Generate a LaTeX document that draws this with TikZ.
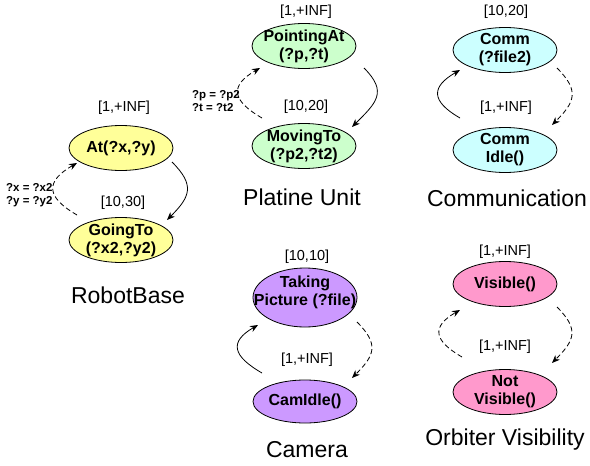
\documentclass[tikz,border=0pt]{standalone}
\usepackage{fontspec}
\setmainfont{Liberation Sans}
\usetikzlibrary{arrows.meta,shapes.geometric}
\definecolor{cyel}{HTML}{FFFF99}
\definecolor{cgrn}{HTML}{CCFFCC}
\definecolor{ccyn}{HTML}{CCFFFF}
\definecolor{cpur}{HTML}{CC99FF}
\definecolor{cpnk}{HTML}{FF99CC}
\begin{document}
\begin{tikzpicture}[x=1pt,y=1pt,
  state/.style={ellipse, draw, line width=0.8pt, minimum width=104pt, minimum height=45pt,
    inner sep=-16pt, align=center, font=\fontsize{16}{18}\selectfont\bfseries},
  dur/.style={font=\fontsize{14.5}{16}\selectfont},
  title/.style={font=\fontsize{23}{26}\selectfont},
  eq/.style={font=\fontsize{11.5}{13}\selectfont\bfseries, align=left, anchor=west, inner sep=0pt},
  sol/.style={line width=0.8pt, -{Stealth[length=8pt,width=6.5pt]}},
  dsh/.style={sol, dash pattern=on 5pt off 3pt},
  rarc/.style={out=-45,in=45,looseness=1.45},
  larc/.style={out=150,in=-150,looseness=1.8}]
\useasboundingbox (0,0) rectangle (590,-466);
% RobotBase
\node[state, fill=cyel] (at) at (121,-148) {At(?x,?y)};
\node[state, fill=cyel] (go) at (121,-240) {GoingTo\\(?x2,?y2)};
\node[dur] (d1) at (124,-108) {[1,+INF]};
\node[dur] (d2) at (123,-203) {[10,30]};
\node[title] (t1) at (128,-295) {RobotBase};
\node[eq] (e1) at (6,-195) {?x = ?x2\\?y = ?y2};
\draw[sol] ([shift={(51,-14)}]at.center) to[rarc] ([shift={(46,20)}]go.center);
\draw[dsh] ([shift={(-44,25)}]go.center) to[larc] ([shift={(-44,-15)}]at.center);
% Platine Unit
\node[state, fill=cgrn] (pa) at (304,-46) {PointingAt\\(?p,?t)};
\node[state, fill=cgrn] (mt) at (304,-146) {MovingTo\\(?p2,?t2)};
\node[dur] (d3) at (306,-12) {[1,+INF]};
\node[dur] (d4) at (306,-107) {[10,20]};
\node[title] (t2) at (302,-197) {Platine Unit};
\node[eq] (e2) at (192,-101) {?p = ?p2\\?t = ?t2};
\draw[sol] ([shift={(60,-22)}]pa.center) to[rarc] ([shift={(48,19)}]mt.center);
\draw[dsh] ([shift={(-42,28)}]mt.center) to[larc] ([shift={(-44,-22)}]pa.center);
% Communication
\node[state, fill=ccyn] (c1) at (505,-50) {Comm\\(?file2)};
\node[state, fill=ccyn] (c2) at (505,-150) {Comm\\Idle()};
\node[dur] (d5) at (506,-12) {[10,20]};
\node[dur] (d6) at (506,-108) {[1,+INF]};
\node[title] (t3) at (507,-198) {Communication};
\draw[dsh] ([shift={(52,-18)}]c1.center) to[rarc] ([shift={(47,25)}]c2.center);
\draw[sol] ([shift={(-45,32)}]c2.center) to[larc] ([shift={(-45,-20)}]c1.center);
% Camera
\node[state, fill=cpur, minimum height=59pt, text depth=14pt] (tp) at (305,-297.5) {Taking\\Picture (?file)};
\node[state, fill=cpur, minimum height=43pt] (ci) at (305,-401.5) {CamIdle()};
\node[dur] (d7) at (307,-257) {[10,10]};
\node[dur] (d8) at (307,-360) {[1,+INF]};
\node[title] (t4) at (307,-450) {Camera};
\draw[dsh] ([shift={(52,-24.5)}]tp.center) to[rarc] ([shift={(47,23.5)}]ci.center);
\draw[sol] ([shift={(-43,28.5)}]ci.center) to[larc] ([shift={(-47,-27.5)}]tp.center);
% Orbiter Visibility
\node[state, fill=cpnk] (vi) at (505,-284) {Visible()};
\node[state, fill=cpnk] (nv) at (505,-392) {Not\\Visible()};
\node[dur] (d9) at (505,-252) {[1,+INF]};
\node[dur] (d10) at (505,-347) {[1,+INF]};
\node[title] (t5) at (505,-440) {Orbiter Visibility};
\draw[dsh] ([shift={(52,-23)}]vi.center) to[rarc] ([shift={(47,29)}]nv.center);
\draw[dsh] ([shift={(-43,35)}]nv.center) to[larc] ([shift={(-45,-26)}]vi.center);
\end{tikzpicture}
\end{document}
